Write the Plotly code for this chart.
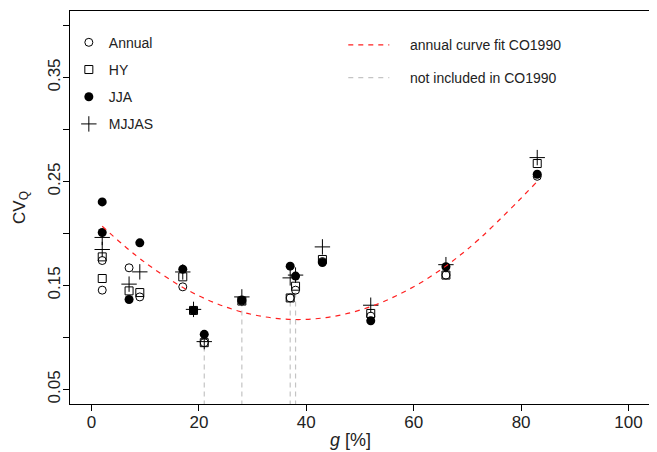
import plotly.graph_objects as go

# ---- data ----
g_pct = [2, 2, 7, 9, 17, 19, 21, 28, 37, 38, 43, 52, 66, 83]
cv_annual = [0.174, 0.1455, 0.167, 0.139, 0.1487, 0.126, 0.095, 0.135, 0.138, 0.1455, 0.173, 0.1205, 0.160, 0.255]
cv_hy = [0.1775, 0.1567, 0.1448, 0.1432, 0.1583, 0.126, 0.095, 0.135, 0.138, 0.1493, 0.175, 0.1231, 0.160, 0.2673]
cv_jja = [0.2304, 0.201, 0.1365, 0.191, 0.1657, 0.126, 0.103, 0.136, 0.1686, 0.159, 0.1721, 0.116, 0.168, 0.257]
cv_mjjas = [0.1962, 0.1846, 0.1513, 0.1631, 0.163, 0.127, 0.096, 0.139, 0.1573, 0.160, 0.1871, 0.131, 0.170, 0.273]

# annual curve fit CO1990
fit_g = [2, 10, 20, 30, 40, 50, 60, 70, 83]
fit_cv = [0.207, 0.172, 0.140, 0.122, 0.1174, 0.1263, 0.1488, 0.1848, 0.250]

# stations not included in CO1990 (grey drop lines up to annual value)
excluded_g = [21, 28, 37, 38]
excluded_cv = [0.095, 0.135, 0.138, 0.1455]

x_ticks = [0, 20, 40, 60, 80, 100]
y_ticks = [0.05, 0.10, 0.15, 0.20, 0.25, 0.30, 0.35, 0.40]
y_tick_labels = ["0.05", "", "0.15", "", "0.25", "", "0.35", ""]

series_names = ["Annual", "HY", "JJA", "MJJAS"]
legend2_labels = ["annual curve fit CO1990", "not included in CO1990"]

FONT = "Liberation Sans, Arial, sans-serif"
TXT = "#222222"

fig = go.Figure()

# grey drop lines
gx, gy = [], []
for xv, yv in zip(excluded_g, excluded_cv):
    gx += [xv, xv, None]
    gy += [0.0, yv, None]
fig.add_trace(go.Scatter(x=gx, y=gy, mode="lines", showlegend=False,
                         line=dict(color="#c4c4c4", width=1.2, dash="5px,4px"),
                         hoverinfo="skip"))

styles = [
    dict(symbol="circle-open", size=8, color="black", line=dict(width=1, color="black")),
    dict(symbol="square-open", size=8, color="black", line=dict(width=1, color="black")),
    dict(symbol="circle", size=9, color="black", line=dict(width=0)),
    dict(symbol="cross-thin-open", size=11, color="black", line=dict(width=1, color="black")),
]
for name, vals, st in zip(series_names, [cv_annual, cv_hy, cv_jja, cv_mjjas], styles):
    fig.add_trace(go.Scatter(x=g_pct, y=vals, mode="markers", name=name,
                             legendgroup=name, marker=st))

# fitted curve
fig.add_trace(go.Scatter(x=fit_g, y=fit_cv, mode="lines", showlegend=False,
                         line=dict(color="#ff2020", width=1.2, dash="5px,5px", shape="spline"),
                         hoverinfo="skip"))

# manual second legend (lines + text) in paper coordinates
leg2_colors = ["#ff2020", "#c4c4c4"]
leg2_y = [0.9136, 0.8304]
for lab, col, yy in zip(legend2_labels, leg2_colors, leg2_y):
    fig.add_shape(type="line", xref="paper", yref="paper", x0=0.4798, x1=0.5505,
                  y0=yy, y1=yy, line=dict(color=col, width=1.2, dash="5px,5px"))
    fig.add_annotation(xref="paper", yref="paper", x=0.5833, y=yy, text=lab,
                       showarrow=False, xanchor="left", yanchor="middle",
                       font=dict(family=FONT, size=14, color=TXT))

# x-axis title
fig.add_annotation(xref="paper", yref="paper", x=0.4835, y=-0.0908, text="<i>g</i> [%]",
                   showarrow=False, xanchor="center", yanchor="middle",
                   font=dict(family=FONT, size=18, color=TXT))

# the page body adds an 8px offset, so margins are compensated
fig.update_layout(
    width=657, height=452,
    margin=dict(l=62, r=15, t=3, b=56, autoexpand=False),
    paper_bgcolor="white", plot_bgcolor="white",
    font=dict(family=FONT, size=17, color=TXT),
    showlegend=True,
    legend=dict(x=-0.002, y=0.96, xanchor="left", yanchor="top",
                bgcolor="rgba(0,0,0,0)", font=dict(family=FONT, size=14, color=TXT),
                tracegroupgap=6, itemclick=False),
)
fig.update_xaxes(range=[-4, 104], tickvals=x_ticks, ticktext=[str(v) for v in x_ticks],
                 automargin=False,
                 showgrid=False, zeroline=False, showline=True, linecolor="black",
                 linewidth=1, mirror=True, ticks="outside", ticklen=6, tickcolor="black",
                 ticklabelstandoff=-3,
                 tickfont=dict(family=FONT, size=17, color=TXT))
fig.update_yaxes(range=[0.036, 0.414], tickvals=y_ticks, ticktext=y_tick_labels,
                 tickangle=-90, automargin=False,
                 showgrid=False, zeroline=False, showline=True, linecolor="black",
                 linewidth=1, mirror=True, ticks="outside", ticklen=6, tickcolor="black",
                 ticklabelstandoff=-4,
                 tickfont=dict(family=FONT, size=17, color=TXT),
                 title=dict(text="CV<sub>Q</sub>", standoff=15,
                            font=dict(family=FONT, size=17, color=TXT)))

fig.write_html("out.html")
